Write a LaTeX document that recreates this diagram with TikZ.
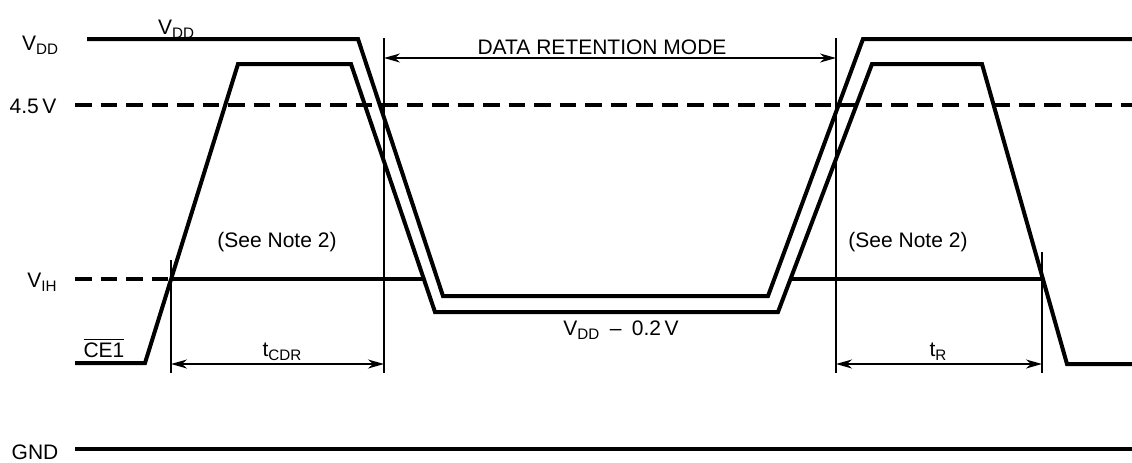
\documentclass[tikz,border=0pt]{standalone}
\usepackage{fontspec}
\setmainfont{Liberation Sans}
\usetikzlibrary{arrows.meta}
\newcommand\indice[1]{\raisebox{-2.2pt}{\fontsize{7.6}{8}\selectfont #1}}

\begin{document}
\begin{tikzpicture}[x=0.5pt,y=-0.5pt]
\tikzset{trait/.style={line width=2pt, line join=miter},
  pointille/.style={line width=2pt, dash pattern=on 8.25pt off 4.5pt},
  repere/.style={line width=0.75pt},
  cote/.style={line width=0.75pt, {Stealth[length=8pt,width=4.5pt,inset=2.5pt]}-{Stealth[length=8pt,width=4.5pt,inset=2.5pt]}},
  etiq/.style={font=\fontsize{10.5}{12}\selectfont, inner sep=0pt}}
\useasboundingbox (0,0) rectangle (1132,462);
\draw[pointille] (75,105) -- (1132,105);
\draw[pointille] (75,279) -- (171,279);
\draw[trait] (171,279) -- (423,279);
\draw[trait] (791,279) -- (1043,279);
\draw[trait] (75,449) -- (1132,449);
\draw[trait] (87,39) -- (358,39) -- (443,296) -- (768,296) -- (863,39) -- (1132,39);
\draw[trait] (75,363) -- (145,363) -- (238,64) -- (351,64) -- (435,312) -- (778,312) -- (872,64) -- (982,64) -- (1067,364) -- (1132,364);
\coordinate (M1h) at (171,260);
\coordinate (M1b) at (171,373);
\coordinate (M2h) at (384,38);
\coordinate (M2b) at (384,373);
\coordinate (M3h) at (836,38);
\coordinate (M3b) at (836,373);
\coordinate (M4h) at (1042,252);
\coordinate (M4b) at (1042,373);
\draw[repere] (M1h) -- (M1b);
\draw[repere] (M2h) -- (M2b);
\draw[repere] (M3h) -- (M3b);
\draw[repere] (M4h) -- (M4b);
\coordinate (A1) at (171,364);
\coordinate (A2) at (384,364);
\coordinate (A3) at (384,58);
\coordinate (A4) at (836,58);
\coordinate (A5) at (836,364);
\coordinate (A6) at (1042,364);
\draw[cote] (A1) -- (A2);
\draw[cote] (A3) -- (A4);
\draw[cote] (A5) -- (A6);
\node[etiq] (vdd) at (40,45) {V\indice{DD}};
\node[etiq] (vddh) at (176,29) {V\indice{DD}};
\node[etiq] (v45) at (33,106) {4.5\,V};
\node[etiq] (vih) at (42,282) {V\indice{IH}};
\node[etiq] (ce) at (104,348) {$\overline{\mbox{CE1}}$};
\node[etiq] (gnd) at (35,452) {GND};
\node[etiq] (drm) at (602,47) {DATA RETENTION MODE};
\node[etiq] (note1) at (277,242) {(See Note 2)};
\node[etiq] (note2) at (908,242) {(See Note 2)};
\node[etiq] (tcdr) at (282,352) {t\indice{CDR}};
\node[etiq] (tr) at (938,352) {t\indice{R}};
\node[etiq] (vmin) at (621,330) {V\indice{DD}\enspace--\enspace0.2\,V};
\end{tikzpicture}
\end{document}
